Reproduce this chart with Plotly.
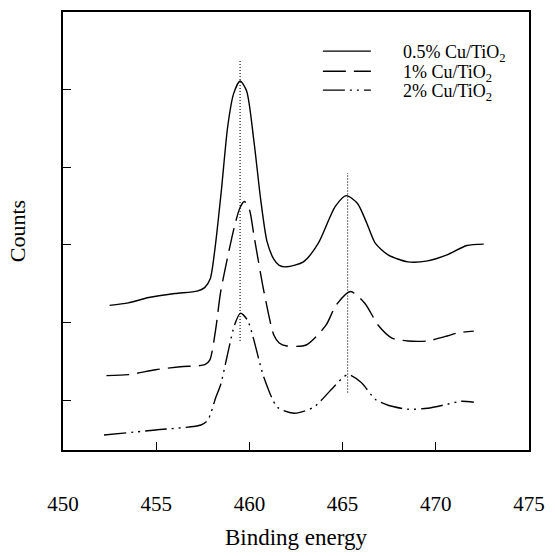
import plotly.graph_objects as go

# Binding energy (eV) and counts (arbitrary units, vertically offset curves)
x_05 = [452.5, 453.5, 454.6, 456.0, 457.2, 457.6, 457.9, 458.15, 458.5, 458.83, 459.15, 459.5,
        459.85, 460.25, 460.6, 460.94, 461.3, 461.6, 462.0, 462.9, 463.7, 464.6, 465.2, 465.8,
        466.3, 466.75, 467.44, 468.5, 469.56, 470.6, 471.67, 472.57]
y_05 = [2.222, 2.254, 2.324, 2.375, 2.406, 2.451, 2.565, 2.947, 3.711, 4.513, 4.946, 5.111,
        4.984, 4.323, 3.597, 3.050, 2.821, 2.738, 2.719, 2.783, 3.024, 3.495, 3.636, 3.534,
        3.279, 3.024, 2.872, 2.783, 2.795, 2.872, 2.993, 3.011]

x_1 = [452.33, 453.5, 454.97, 456.3, 457.61, 457.88, 458.2, 458.46, 459.2, 459.5, 459.73, 460.0,
       460.25, 460.78, 461.31, 461.6, 462.0, 463.05, 464.11, 464.64, 465.43, 466.2, 466.91,
       467.65, 468.5, 469.56, 470.61, 471.14, 472.04]
y_1 = [1.318, 1.330, 1.394, 1.432, 1.458, 1.521, 1.929, 2.400, 3.240, 3.482, 3.559, 3.457,
       3.113, 2.400, 1.840, 1.738, 1.700, 1.712, 1.967, 2.222, 2.400, 2.247, 1.967,
       1.802, 1.764, 1.764, 1.828, 1.866, 1.891]

x_2 = [452.2, 454.97, 457.4, 457.77, 458.2, 458.46, 459.2, 459.51, 459.9, 460.78, 461.5, 462.4,
       463.45, 464.5, 465.27, 466.0, 466.75, 467.44, 468.5, 469.56, 470.61, 471.35, 472.04]
y_2 = [0.554, 0.618, 0.682, 0.745, 1.038, 1.204, 1.967, 2.120, 2.031, 1.293, 0.911, 0.834,
       0.911, 1.166, 1.331, 1.229, 1.013, 0.936, 0.885, 0.898, 0.949, 0.987, 0.975]

# Reference (dotted) peak positions
peak_x = [459.5, 465.27]
peak_y_top = [5.392, 3.928]
peak_y_bottom = [1.764, 1.102]

names = ["0.5% Cu/TiO<sub>2</sub>", "1% Cu/TiO<sub>2</sub>", "2% Cu/TiO<sub>2</sub>"]
x_ticks = [450, 455, 460, 465, 470, 475]
y_ticks = [1, 2, 3, 4, 5]

FONT = "Liberation Serif"
PAD = "\u00a0" * 6

fig = go.Figure()
for px_, t, b in zip(peak_x, peak_y_top, peak_y_bottom):
    fig.add_trace(go.Scatter(x=[px_, px_], y=[b, t], mode="lines", showlegend=False,
                             line=dict(color="black", width=1.1, dash="1px,2px"),
                             hoverinfo="skip"))

styles = ["solid", "23px,8px", "22px,5px,2px,5px,2px,5px"]
legends = ["legend", "legend2", "legend3"]
for xs, ys, nm, dsh, lg in zip([x_05, x_1, x_2], [y_05, y_1, y_2], names, styles, legends):
    fig.add_trace(go.Scatter(x=xs, y=ys, mode="lines", name=PAD + nm, legend=lg,
                             line=dict(color="black", width=1.4, dash=dsh,
                                       shape="spline", smoothing=0.7)))

leg_common = dict(xanchor="left", yanchor="middle", bgcolor="rgba(0,0,0,0)",
                  font=dict(size=18, family=FONT), itemwidth=48)
fig.update_layout(
    width=555, height=556,
    margin=dict(l=63, r=19, t=10, b=103),
    paper_bgcolor="white", plot_bgcolor="white",
    font=dict(family=FONT, color="black", size=19),
    showlegend=True,
    legend=dict(x=0.547, y=0.910, **leg_common),
    legend2=dict(x=0.547, y=0.864, **leg_common),
    legend3=dict(x=0.547, y=0.821, **leg_common),
)
fig.update_xaxes(range=[450, 475], tickvals=x_ticks, ticks="inside", ticklen=8,
                 tickwidth=1.3, tickcolor="black", showgrid=False, zeroline=False,
                 showline=True, linecolor="black", linewidth=1.5, mirror=True,
                 tickfont=dict(size=21, family=FONT), ticklabelstandoff=34,
                 title=dict(text="Binding energy", font=dict(size=23, family=FONT), standoff=14))
fig.update_yaxes(range=[0.36, 6.0], tickvals=y_ticks, ticks="inside", ticklen=8,
                 tickwidth=1.3, tickcolor="black", showticklabels=False, showgrid=False,
                 zeroline=False, showline=True, linecolor="black", linewidth=1.5, mirror=True,
                 title=dict(text="Counts", font=dict(size=22, family=FONT), standoff=30))

fig.write_html("out.html")
